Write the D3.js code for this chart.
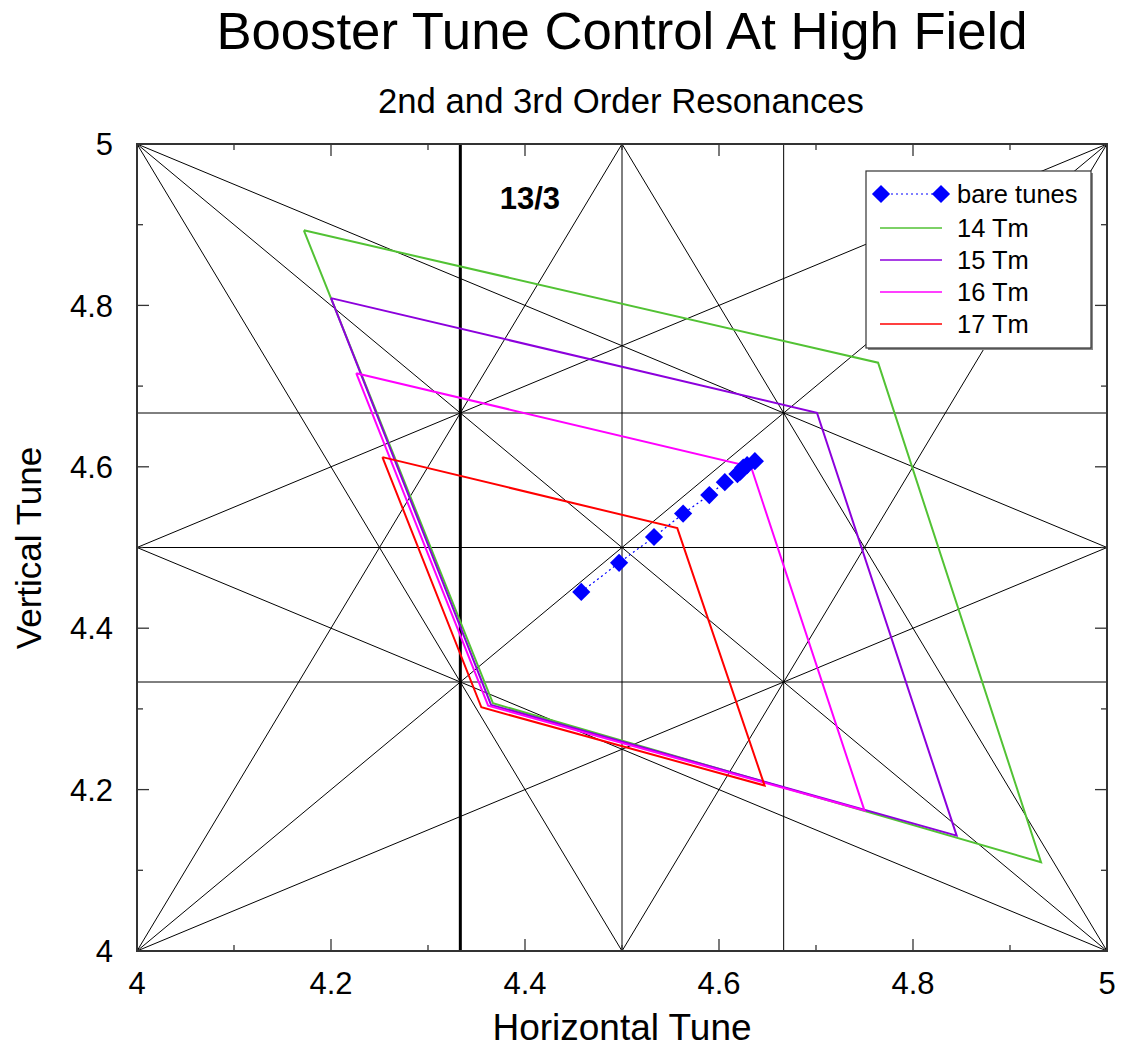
<!DOCTYPE html>
<html>
<head>
<meta charset="utf-8">
<script src="https://cdn.jsdelivr.net/npm/d3@7"></script>
<style>
  body { margin: 0; background: #fff; }
  svg { font-family: "Liberation Sans", Arial, Helvetica, sans-serif; }
</style>
</head>
<body>
<div id="chart"></div>
<script>
// tick values
const xTicks = [4, 4.2, 4.4, 4.6, 4.8, 5];
const yTicks = [4, 4.2, 4.4, 4.6, 4.8, 5];
const minorTicks = [4.1, 4.3, 4.5, 4.7, 4.9];

// resonance lines (endpoints in tune space)
const resonanceLines = [
  [4.5, 4, 4.5, 5], [4 + 2 / 3, 4, 4 + 2 / 3, 5],
  [4, 4.5, 5, 4.5], [4, 4 + 1 / 3, 5, 4 + 1 / 3], [4, 4 + 2 / 3, 5, 4 + 2 / 3],
  [4, 4, 5, 5], [4, 5, 5, 4],
  [4, 5, 4.5, 4], [4, 5, 5, 4.5],
  [5, 5, 4.5, 4], [5, 5, 4, 4.5],
  [5, 4, 4.5, 5], [5, 4, 4, 4.5],
  [4, 4, 4.5, 5], [4, 4, 5, 4.5]
];
const thirdLine = 4 + 1 / 3;

// bare tunes
const bareQx = [4.458, 4.497, 4.533, 4.563, 4.590, 4.606, 4.619, 4.622, 4.625, 4.629, 4.637];
const bareQy = [4.445, 4.481, 4.513, 4.542, 4.565, 4.581, 4.591, 4.594, 4.599, 4.602, 4.607];

// working point quadrilaterals
const tm14Qx = [4.172, 4.764, 4.932, 4.367, 4.172];
const tm14Qy = [4.893, 4.729, 4.110, 4.307, 4.893];
const tm15Qx = [4.200, 4.701, 4.845, 4.365, 4.200];
const tm15Qy = [4.809, 4.667, 4.143, 4.305, 4.809];
const tm16Qx = [4.226, 4.633, 4.750, 4.362, 4.226];
const tm16Qy = [4.716, 4.600, 4.174, 4.304, 4.716];
const tm17Qx = [4.253, 4.557, 4.647, 4.355, 4.253];
const tm17Qy = [4.612, 4.524, 4.205, 4.302, 4.612];

const seriesNames = ["14 Tm", "15 Tm", "16 Tm", "17 Tm"];
const seriesColors = ["#52c234", "#8c00dc", "#ff00ff", "#ff0000"];
const seriesX = [tm14Qx, tm15Qx, tm16Qx, tm17Qx];
const seriesY = [tm14Qy, tm15Qy, tm16Qy, tm17Qy];

const W = 1121, H = 1047;
const margin = { top: 144, left: 137, right: 14, bottom: 96 };
const width = W - margin.left - margin.right;
const height = H - margin.top - margin.bottom;

const svg = d3.select("#chart").append("svg")
  .attr("width", W).attr("height", H);

const x = d3.scaleLinear().domain([4, 5]).range([0, width]);
const y = d3.scaleLinear().domain([4, 5]).range([height, 0]);

const g = svg.append("g")
  .attr("transform", "translate(" + margin.left + "," + margin.top + ")");

// resonance lines
g.selectAll(".res")
  .data(resonanceLines)
  .enter().append("line")
  .attr("x1", d => x(d[0])).attr("y1", d => y(d[1]))
  .attr("x2", d => x(d[2])).attr("y2", d => y(d[3]))
  .attr("stroke", "#000").attr("stroke-width", 1);

g.append("line")
  .attr("x1", x(thirdLine)).attr("x2", x(thirdLine))
  .attr("y1", y(4)).attr("y2", y(5))
  .attr("stroke", "#000").attr("stroke-width", 3);

g.append("text")
  .attr("x", x(4.405)).attr("y", y(4.92))
  .attr("text-anchor", "middle")
  .attr("font-size", 31).attr("font-weight", "bold")
  .text("13/3");

// working point lines
const line = d3.line().x(d => x(d[0])).y(d => y(d[1]));
seriesX.forEach((sx, i) => {
  g.append("path")
    .datum(sx.map((v, j) => [v, seriesY[i][j]]))
    .attr("d", line)
    .attr("fill", "none")
    .attr("stroke", seriesColors[i])
    .attr("stroke-width", 2);
});

// bare tunes
const bare = bareQx.map((v, i) => [v, bareQy[i]]);
g.append("path")
  .datum(bare)
  .attr("d", line)
  .attr("fill", "none")
  .attr("stroke", "#0000ff")
  .attr("stroke-width", 1.2)
  .attr("stroke-dasharray", "2,3");

const diamond = d3.symbol().type(d3.symbolSquare).size(165);
g.selectAll(".bare")
  .data(bare)
  .enter().append("path")
  .attr("d", diamond)
  .attr("transform", d => "translate(" + x(d[0]) + "," + y(d[1]) + ") rotate(45)")
  .attr("fill", "#0000ff");

// frame + ticks
g.append("rect")
  .attr("width", width).attr("height", height)
  .attr("fill", "none").attr("stroke", "#333").attr("stroke-width", 2);

const tickG = g.append("g").attr("stroke", "#333").attr("stroke-width", 1.3);
[[xTicks, 12], [minorTicks, 6]].forEach(([vals, len]) => {
  vals.forEach(v => {
    tickG.append("line").attr("x1", x(v)).attr("x2", x(v)).attr("y1", height).attr("y2", height - len);
    tickG.append("line").attr("x1", x(v)).attr("x2", x(v)).attr("y1", 0).attr("y2", len);
    tickG.append("line").attr("y1", y(v)).attr("y2", y(v)).attr("x1", 0).attr("x2", len);
    tickG.append("line").attr("y1", y(v)).attr("y2", y(v)).attr("x1", width).attr("x2", width - len);
  });
});

g.selectAll(".xl")
  .data(xTicks)
  .enter().append("text")
  .attr("x", d => x(d)).attr("y", height + 43)
  .attr("text-anchor", "middle")
  .attr("font-size", 31)
  .text(d => d3.format("")(d));

g.selectAll(".yl")
  .data(yTicks)
  .enter().append("text")
  .attr("x", -24).attr("y", d => y(d))
  .attr("dy", "0.36em")
  .attr("text-anchor", "end")
  .attr("font-size", 31)
  .text(d => d3.format("")(d));

// titles
svg.append("text")
  .attr("x", 622).attr("y", 49)
  .attr("text-anchor", "middle").attr("font-size", 52.7)
  .text("Booster Tune Control At High Field");
svg.append("text")
  .attr("x", 621).attr("y", 113)
  .attr("text-anchor", "middle").attr("font-size", 34.7)
  .text("2nd and 3rd Order Resonances");
svg.append("text")
  .attr("x", 622).attr("y", 1040)
  .attr("text-anchor", "middle").attr("font-size", 37)
  .text("Horizontal Tune");
svg.append("text")
  .attr("transform", "translate(41,548) rotate(-90)")
  .attr("text-anchor", "middle").attr("font-size", 35)
  .text("Vertical Tune");

// legend
const lg = svg.append("g").attr("transform", "translate(866,171)");
lg.append("rect").attr("x", 2).attr("y", 2).attr("width", 225).attr("height", 177).attr("fill", "#888");
lg.append("rect").attr("width", 225).attr("height", 177)
  .attr("fill", "#fff").attr("stroke", "#333").attr("stroke-width", 1.2);

lg.append("line").attr("x1", 15).attr("x2", 75).attr("y1", 23).attr("y2", 23)
  .attr("stroke", "#0000ff").attr("stroke-width", 1.2).attr("stroke-dasharray", "2,3");
[15, 75].forEach(px => {
  lg.append("path").attr("d", diamond)
    .attr("transform", "translate(" + px + ",23) rotate(45)")
    .attr("fill", "#0000ff");
});
lg.append("text").attr("x", 91).attr("y", 23).attr("dy", "0.36em")
  .attr("font-size", 25.5).text("bare tunes");

seriesNames.forEach((name, i) => {
  const yy = 57 + i * 32;
  lg.append("line").attr("x1", 14).attr("x2", 76).attr("y1", yy).attr("y2", yy)
    .attr("stroke", seriesColors[i]).attr("stroke-width", 1.5);
  lg.append("text").attr("x", 91).attr("y", yy).attr("dy", "0.36em")
    .attr("font-size", 25.5).text(name);
});
</script>
</body>
</html>
